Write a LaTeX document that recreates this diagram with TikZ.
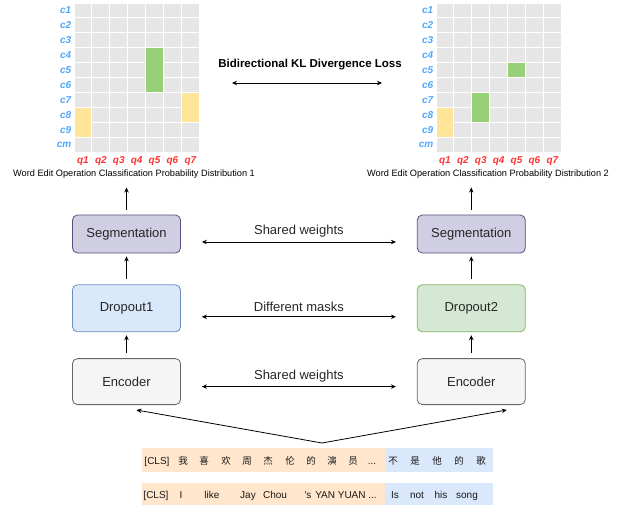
\documentclass[tikz,border=0pt]{standalone}
\usepackage{fontspec}
\setmainfont{Liberation Sans}
\newfontfamily\cjk{Noto Sans CJK SC}
\usetikzlibrary{arrows.meta,positioning}

\definecolor{cellgray}{HTML}{E6E6E6}
\definecolor{hlgreen}{HTML}{97D077}
\definecolor{hlyellow}{HTML}{FFE599}
\definecolor{rowblue}{HTML}{4DA6FF}
\definecolor{colred}{HTML}{FF3333}
\definecolor{segfill}{HTML}{D0CEE2}
\definecolor{segline}{HTML}{56517E}
\definecolor{dropafill}{HTML}{DAE8FC}
\definecolor{dropaline}{HTML}{6C8EBF}
\definecolor{dropbfill}{HTML}{D5E8D4}
\definecolor{dropbline}{HTML}{82B366}
\definecolor{encfill}{HTML}{F5F5F5}
\definecolor{encline}{HTML}{666666}
\definecolor{tokorange}{HTML}{FFE6CC}
\definecolor{tokblue}{HTML}{DAE8FC}

\begin{document}
\begin{tikzpicture}[
    x=1pt, y=-1pt,
    node distance=31pt,
    every node/.style={font=\fontsize{13}{15}\selectfont, text=black!85},
    block/.style={draw, rounded corners=5pt, line width=0.8pt, align=center, minimum width=108pt, inner sep=0pt},
    rowlab/.style={font=\fontsize{10}{11}\selectfont\bfseries\itshape, text=rowblue, anchor=east, inner sep=0pt},
    collab/.style={font=\fontsize{10}{11}\selectfont\bfseries\itshape, text=colred, inner sep=0pt},
    caption/.style={font=\fontsize{9.2}{10}\selectfont, text=black, inner sep=1pt},
    band/.style={anchor=north west, inner sep=0pt, outer sep=0pt, minimum height=24pt},
    tok/.style={font=\fontsize{10}{11}\selectfont, text=black!90, inner sep=0pt, anchor=base},
    flow/.style={-{Stealth[length=5pt,width=4.5pt]}, line width=0.8pt},
    both/.style={{Stealth[length=5pt,width=4.5pt]}-{Stealth[length=5pt,width=4.5pt]}, line width=0.8pt, shorten <=21pt, shorten >=21pt}
]
\useasboundingbox (0,0) rectangle (619,506);

% probability grids
\foreach \g/\gx in {L/74, R/436}{
  \foreach \i in {0,...,6}
    \foreach \j in {0,...,9}
      \fill[cellgray] (\gx+\i*17.9+0.5, 3+\j*14.9+0.5) rectangle ++(16.9,13.9);
  \foreach \r [count=\k] in {c1,c2,c3,c4,c5,c6,c7,c8,c9,cm}
    \node[rowlab] (c\g\k) at (\gx-2.5, 3+\k*14.9-7.45) {\r};
  \foreach \k in {1,...,7}
    \node[collab] (q\g\k) at (\gx+\k*17.9-8.95, 161) {q\k};
}
\foreach \gx/\c/\ra/\rb/\col in {74/5/4/6/hlgreen, 74/1/8/9/hlyellow, 74/7/7/8/hlyellow,
                                  436/1/8/9/hlyellow, 436/3/7/8/hlgreen, 436/5/5/5/hlgreen}
  \fill[\col] (\gx+\c*17.9-17.4, 3+\ra*14.9-14.4) rectangle (\gx+\c*17.9-0.5, 3+\rb*14.9-0.5);

\node[caption] (capL) at (134,174) {Word Edit Operation Classification Probability Distribution 1};
\node[caption] (capR) at (488,174) {Word Edit Operation Classification Probability Distribution 2};

\node[font=\fontsize{11.5}{13}\selectfont\bfseries, text=black] (kl) at (310,65) {Bidirectional KL Divergence Loss};
\coordinate (klA) at (232,83);
\coordinate (klB) at (382,83);
\draw[both, shorten <=0pt, shorten >=0pt] (klA) -- (klB);

% model branches
\node[block, fill=segfill, draw=segline, minimum height=38pt] (segL) at (126.5,234) {Segmentation};
\node[block, fill=dropafill, draw=dropaline, minimum height=47pt, below=of segL] (dropL) {Dropout1};
\node[block, fill=encfill, draw=encline, minimum height=46pt, below=26pt of dropL] (encL) {Encoder};
\node[block, fill=segfill, draw=segline, minimum height=38pt, right=236pt of segL] (segR) {Segmentation};
\node[block, fill=dropbfill, draw=dropbline, minimum height=47pt, right=236pt of dropL] (dropR) {Dropout2};
\node[block, fill=encfill, draw=encline, minimum height=46pt, right=236pt of encL] (encR) {Encoder};

\foreach \s in {L,R}{
  \draw[flow, shorten <=5.5pt, shorten >=3pt] (enc\s.north) -- (drop\s.south);
  \draw[flow, shorten <=5pt, shorten >=3pt] (drop\s.north) -- (seg\s.south);
  \draw[flow, shorten <=5pt, shorten >=8pt] (seg\s.north) -- (seg\s.north |- cap\s.south);
}

\draw[both] ([yshift=-8pt]segL.east) -- node[above=1pt] (swA) {Shared weights} ([yshift=-8pt]segR.west);
\draw[both] ([yshift=-8.5pt]dropL.east) -- node[above=1pt] (dm) {Different masks} ([yshift=-8.5pt]dropR.west);
\draw[both] ([yshift=-5pt]encL.east) -- node[above=1pt] (swB) {Shared weights} ([yshift=-5pt]encR.west);

% input tokens
\node[band, fill=tokorange, minimum width=244pt] (zhA) at (142,448) {};
\node[band, fill=tokblue, minimum width=107pt] (zhB) at (386,448) {};
\node[band, fill=tokorange, minimum width=243pt, minimum height=22pt] (enA) at (142,483) {};
\node[band, fill=tokblue, minimum width=108pt, minimum height=22pt] (enB) at (385,483) {};

\node[tok] (clsA) at (157,464) {[CLS]};
\foreach \x/\t [count=\k] in {183/我, 204/喜, 226/欢, 247/周, 268/杰, 290/伦, 311/的, 332/演, 353/员,
                               393/不, 415/是, 437/他, 459/的, 481/歌}
  \node[tok, font=\fontsize{9.5}{10}\selectfont] (zh\k) at (\x,464) {\cjk\t};
\node[tok] (dotsA) at (372,464) {...};

\foreach \x/\t [count=\k] in {156/{[CLS]}, 181/I, 212/like, 248/Jay, 275/Chou, 308/{\textquotesingle s},
                               346/{YAN YUAN ...}, 395/Is, 417/not, 441/his, 467/song}
  \node[tok] (en\k) at (\x,498) {\t};

\coordinate (split) at (322,443);
\draw[flow] (split) -- ([xshift=10pt,yshift=-5pt]encL.south);
\draw[flow] (split) -- ([xshift=35.5pt,yshift=-5pt]encR.south);
\end{tikzpicture}
\end{document}
